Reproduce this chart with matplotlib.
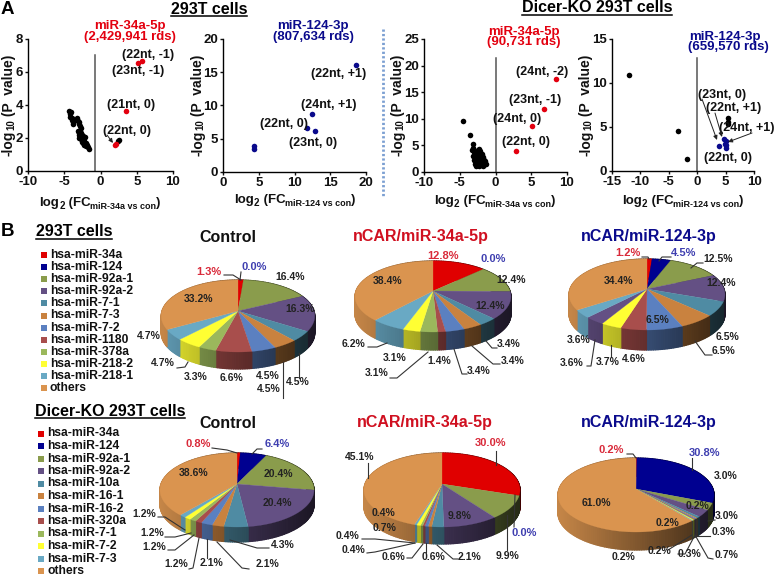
#!/usr/bin/env python
"""Volcano plots (A) and 3D-looking miRNA pies (B), 293T and Dicer-KO cells"""
import numpy as np
import matplotlib
matplotlib.use('Agg')
import matplotlib.pyplot as plt
from matplotlib.patches import Polygon, Rectangle

plt.rcParams['font.family'] = ['Liberation Sans', 'DejaVu Sans']
plt.rcParams['font.weight'] = 'bold'
plt.rcParams['axes.unicode_minus'] = False

W, H = 775, 577

# ===== Volcano data =====
p1_black_x = [-4.3, -4.2, -4.15, -4.05, -4.0, -3.9, -3.85, -3.8, -3.3, -3.2, -3.1, -3.0, -2.9, -2.8, -2.7,
              -3.1, -3.0, -2.95, -2.85, -2.8, -2.7, -2.6, -2.9, -2.75, -2.65, -2.55, -2.5, -2.4, -2.3, -2.6,
              -2.45, -2.35, -2.25, -2.15, -2.3, -2.15, -2.05, -1.95, -1.85, -1.75, -1.6, 2.5, 2.4]
p1_black_y = [3.65, 3.45, 3.3, 3.55, 3.2, 3.1, 2.95, 2.85, 3.2, 3.1, 3.0, 2.95, 2.85, 2.75, 2.6,
              2.4, 2.3, 2.2, 2.45, 2.1, 2.3, 2.15, 2.0, 2.05, 1.95, 2.2, 1.85, 2.1, 2.0, 1.75,
              1.7, 1.9, 1.8, 2.05, 1.6, 1.55, 1.7, 1.5, 1.6, 1.45, 1.35, 1.9, 1.8]
p1_red_x = [5.2, 5.7, 3.5, 2.0, 2.2]
p1_red_y = [6.55, 6.65, 3.65, 1.55, 1.65]
p2_blue_x = [18.6, 12.4, 11.7, 12.8, 4.4, 4.4]
p2_blue_y = [16.1, 8.65, 6.65, 6.1, 3.85, 3.5]
p3_black_x = [-4.5, -3.6, -3.2, -3.1, -3.3, -3.0, -2.9, -3.2, -2.7, -2.5, -2.3, -2.4, -2.1, -2.0, -2.8, -2.6,
              -2.2, -1.9, -1.7, -3.0, -2.8, -2.5, -2.3, -2.1, -1.9, -1.6, -1.4, -2.9, -2.6, -2.4, -2.2, -2.0,
              -1.7, -1.5, -2.7, -2.3, -1.8, -1.3, -2.1]
p3_black_y = [9.6, 6.9, 5.2, 4.6, 4.1, 3.7, 3.3, 3.0, 3.6, 4.1, 4.3, 3.5, 3.9, 3.2, 2.8, 3.0,
              2.9, 3.3, 2.9, 2.3, 2.1, 2.4, 2.5, 2.6, 2.4, 2.2, 2.0, 1.5, 1.7, 1.9, 1.3, 1.6,
              1.8, 1.5, 1.2, 1.1, 1.2, 1.5, 2.0]
p3_red_x = [8.4, 6.8, 5.1, 2.8]
p3_red_y = [17.4, 11.9, 8.7, 3.9]
p4_black_x = [-12.0, -3.4, -1.8, 5.5, 5.5, 5.5]
p4_black_y = [10.9, 4.6, 1.4, 6.0, 5.6, 5.3]
p4_blue_x = [3.9, 4.7, 5.0, 5.1, 5.1, 4.9]
p4_blue_y = [2.8, 3.6, 3.4, 2.9, 2.6, 3.1]

RED = '#e3000f'
NAVY = '#0a0a8c'
LABEL_RED = '#d92a3a'
LABEL_BLUE = '#3f3fb0'

# px box: left, right, top, bottom
PANELS = [
    {'box': (28, 173, 39, 171), 'xlim': (-10, 10), 'ylim': (0, 8), 'xt': [-10, -5, 0, 5, 10], 'yt': [0, 2, 4, 6, 8],
     'series': [(p1_black_x, p1_black_y, 'black'), (p1_red_x, p1_red_y, RED)], 'vline': (-0.75, 7.0)},
    {'box': (223, 366, 39, 172), 'xlim': (0, 20), 'ylim': (0, 20), 'xt': [0, 5, 10, 15, 20], 'yt': [0, 5, 10, 15, 20],
     'series': [(p2_blue_x, p2_blue_y, NAVY)], 'vline': None},
    {'box': (424, 567, 39, 172), 'xlim': (-10, 10), 'ylim': (0, 25), 'xt': [-10, -5, 0, 5, 10], 'yt': [0, 5, 10, 15, 20, 25],
     'series': [(p3_black_x, p3_black_y, 'black'), (p3_red_x, p3_red_y, RED)], 'vline': (0, 21.4)},
    {'box': (612, 754, 39, 171), 'xlim': (-15, 10), 'ylim': (0, 15), 'xt': [-15, -10, -5, 0, 5, 10], 'yt': [0, 5, 10, 15],
     'series': [(p4_black_x, p4_black_y, 'black'), (p4_blue_x, p4_blue_y, NAVY)], 'vline': (0, 12.8)},
]

# ===== Pie data =====
C_RED, C_NAVY, C_OLIVE, C_PURPLE = '#e00000', '#000090', '#8a9c4c', '#645084'
C_TEAL, C_ORANGE, C_BLUE, C_BRICK = '#4f8ba3', '#c9823f', '#5b80c0', '#a84e4c'
C_LIME, C_YELLOW, C_SKY, C_OTHER = '#9bb85c', '#ffff33', '#69a9c4', '#da944f'
slice_colors = [C_RED, C_NAVY, C_OLIVE, C_PURPLE, C_TEAL, C_ORANGE, C_BLUE, C_BRICK, C_LIME, C_YELLOW, C_SKY, C_OTHER]
slice_colors_p3 = [C_RED, C_NAVY, C_OLIVE, C_PURPLE, C_TEAL, C_ORANGE, C_BLUE, C_BRICK, C_YELLOW, C_PURPLE, C_SKY, C_OTHER]

legend_293t = ['hsa-miR-34a', 'hsa-miR-124', 'hsa-miR-92a-1', 'hsa-miR-92a-2', 'hsa-miR-7-1', 'hsa-miR-7-3',
               'hsa-miR-7-2', 'hsa-miR-1180', 'hsa-miR-378a', 'hsa-miR-218-2', 'hsa-miR-218-1', 'others']
legend_dicer = ['hsa-miR-34a', 'hsa-miR-124', 'hsa-miR-92a-1', 'hsa-miR-92a-2', 'hsa-miR-10a', 'hsa-miR-16-1',
                'hsa-miR-16-2', 'hsa-miR-320a', 'hsa-miR-7-1', 'hsa-miR-7-2', 'hsa-miR-7-3', 'others']

vals_293t_con = [1.3, 0.0, 16.4, 16.3, 4.5, 4.5, 4.5, 6.6, 3.3, 4.7, 4.7, 33.2]
vals_293t_34a = [12.8, 0.0, 12.4, 12.4, 3.4, 3.4, 3.4, 1.4, 3.1, 3.1, 6.2, 38.4]
vals_293t_124 = [1.2, 4.5, 12.5, 12.4, 6.5, 6.5, 6.5, 4.6, 3.7, 3.6, 3.6, 34.4]
vals_dicer_con = [0.8, 6.4, 20.4, 20.4, 4.3, 2.1, 2.1, 1.2, 1.2, 1.2, 1.2, 38.6]
vals_dicer_34a = [30.0, 0.0, 9.9, 9.8, 2.1, 0.6, 0.6, 0.4, 0.4, 0.7, 0.4, 45.1]
vals_dicer_124 = [0.2, 30.8, 3.0, 3.0, 0.7, 0.3, 0.3, 0.2, 0.2, 0.2, 0.2, 61.0]

PIES = [
    {'vals': vals_293t_con, 'colors': slice_colors, 'c': (238, 311), 'rx': 76, 'up': 31, 'down': 41, 'depth': 17,
     'xy': [(209, 272), (254, 267), (290, 277), (300, 309), (298, 382), (269, 389), (268, 376), (231, 378), (196, 377), (163, 363), (149, 336), (199, 299)],
     'leaders': [[(224, 275), (233, 275), (241, 280)], [(241, 272), (240, 280)], [(177, 368), (185, 367), (188, 362)], [(299, 353), (299, 378)], [(283, 362), (283, 398)]]},
    {'vals': vals_293t_34a, 'colors': slice_colors, 'c': (433, 291), 'rx': 77, 'up': 30, 'down': 41, 'depth': 18,
     'xy': [(443, 256), (493, 259), (511, 280), (490, 306), (509, 344), (513, 361), (479, 371), (439, 361), (395, 358), (377, 373), (354, 344), (388, 281)],
     'leaders': [[(486, 341), (492, 348), (497, 348)], [(472, 346), (493, 364), (500, 364)], [(454, 349), (462, 374), (467, 374)],
                 [(428, 352), (397, 378), (390, 378)], [(368, 347), (377, 347), (387, 343)]]},
    {'vals': vals_293t_124, 'colors': slice_colors_p3, 'c': (647, 289), 'rx': 77, 'up': 30, 'down': 41, 'depth': 20,
     'xy': [(628, 253), (684, 253), (718, 259), (721, 283), (728, 337), (724, 351), (657, 320), (634, 359), (608, 362), (572, 363), (579, 340), (619, 281)],
     'leaders': [[(642, 257), (648, 257), (649, 259)], [(671, 257), (662, 257), (659, 261)], [(703, 263), (697, 263), (691, 268)],
                 [(712, 355), (705, 355), (695, 341)], [(611, 357), (611, 345)], [(587, 366), (591, 366), (595, 340)]]},
    {'vals': vals_dicer_con, 'colors': slice_colors, 'c': (237, 484), 'rx': 76, 'up': 31, 'down': 43, 'depth': 15,
     'xy': [(198, 444), (277, 444), (278, 474), (277, 503), (283, 545), (267, 564), (212, 563), (176, 564), (154, 547), (152, 533), (144, 514), (194, 473)],
     'leaders': [[(212, 448), (227, 450), (237, 453)], [(262, 449), (257, 449), (252, 454)], [(158, 517), (165, 517), (185, 530)],
                 [(165, 537), (175, 537), (191, 533)], [(168, 550), (175, 550), (194, 535)], [(189, 569), (193, 568), (199, 538)],
                 [(207, 558), (207, 539)], [(249, 569), (242, 568), (217, 542)], [(269, 548), (257, 548), (230, 540)]]},
    {'vals': vals_dicer_34a, 'colors': slice_colors, 'c': (442, 484), 'rx': 77, 'up': 31, 'down': 43, 'depth': 17,
     'xy': [(491, 443), (524, 533), (508, 556), (460, 516), (470, 557), (434, 557), (393, 557), (354, 550), (347, 536), (385, 528), (383, 513), (360, 457)],
     'leaders': [[(496, 451), (496, 465)], [(514, 527), (515, 495)], [(507, 550), (507, 515)], [(458, 559), (453, 559), (437, 545)],
                 [(407, 558), (412, 558), (423, 544)], [(426, 552), (426, 543)], [(368, 463), (368, 478)],
                 [(362, 539), (375, 539), (415, 543)], [(367, 553), (375, 552), (415, 543)]]},
    {'vals': vals_dicer_124, 'colors': slice_colors, 'c': (636, 489), 'rx': 77, 'up': 31, 'down': 43, 'depth': 18,
     'xy': [(611, 450), (705, 453), (726, 476), (727, 516), (727, 555), (723, 532), (689, 554), (697, 506), (668, 523), (659, 551), (624, 557), (596, 503)],
     'leaders': [[(627, 454), (633, 454), (636, 458)], [(692, 458), (692, 470)], [(715, 520), (708, 521)], [(710, 536), (697, 536)],
                 [(713, 559), (708, 558), (695, 535)], [(678, 554), (685, 554), (695, 535)], [(668, 550), (692, 535)]]},
]

fig = plt.figure(figsize=(W / 100, H / 100), dpi=100)

# ===== Volcano axes =====
for p in PANELS:
    l, r, t, b = p['box']
    ax = fig.add_axes([l / W, 1 - b / H, (r - l) / W, (b - t) / H])
    ax.set_xlim(*p['xlim'])
    ax.set_ylim(*p['ylim'])
    ax.set_xticks(p['xt'])
    ax.set_yticks(p['yt'])
    ax.tick_params(labelsize=9.5, width=1.0, length=2.2, pad=1.2, colors='#111111')
    for side in ['top', 'right']:
        ax.spines[side].set_visible(False)
    for side in ['left', 'bottom']:
        ax.spines[side].set_linewidth(1.0)
    if p['vline']:
        ax.plot([p['vline'][0]] * 2, [0, p['vline'][1]], color='#555555', lw=1.1)
    for xs, ys, col in p['series']:
        ax.plot(xs, ys, 'o', color=col, ms=4, mew=0, clip_on=False)

# ===== Overlay in pixel coordinates =====
ov = fig.add_axes([0, 0, 1, 1], zorder=5)
ov.set_xlim(0, W)
ov.set_ylim(H, 0)
ov.axis('off')
ov.patch.set_alpha(0)
renderer = fig.canvas.get_renderer()


def rich(x, y, parts, rot=0):
    # text with sub-script pieces, centred on x, y
    sizes = []
    for s, fs, _ in parts:
        tmp = ov.text(0, 0, s, fontsize=fs)
        sizes.append(tmp.get_window_extent(renderer).width)
        tmp.remove()
    pos = -sum(sizes) / 2
    for (s, fs, dy), w in zip(parts, sizes):
        if rot == 90:
            ov.text(x + dy, y - pos, s, fontsize=fs, rotation=90, ha='center', va='bottom', color='#111111')
        else:
            ov.text(x + pos, y + dy, s, fontsize=fs, ha='left', va='baseline', color='#111111')
        pos += w


def fc_label(x, y, name):
    rich(x, y, [('log', 9.5, 0), ('2', 7, 3), (' (FC', 9.5, 0), (name + ' vs con', 6.5, 3), (')', 9.5, 0)])


def p_label(x, y):
    rich(x, y, [('-log', 10, 0), ('10', 7, 2), (' (P  value)', 10, 0)], rot=90)


def heading(x, y, s, fs=11.5, ul=True, color='black'):
    t = ov.text(x, y, s, fontsize=fs, ha='center', va='center', color=color)
    if ul:
        bb = t.get_window_extent(renderer)
        ov.plot([bb.x0, bb.x1], [y + 7, y + 7], color='black', lw=1.1)


def pie_xy(t, p):
    # circle seen in perspective: the near half of the rim is taller than the far half
    up, down = p['up'], p['down']
    rad = 2 * up * down / (up + down)
    k = (down - up) / (down + up)
    den = 1 + k * np.sin(t)
    return p['c'][0] + p['rx'] * np.cos(t) / den, p['c'][1] - rad * np.sin(t) / den


def draw_pie(p):
    vals = np.array(p['vals'])
    edges = np.cumsum(np.r_[0, vals]) / vals.sum()
    angles = np.pi / 2 - 2 * np.pi * edges
    cx, cy = p['c']
    rx, depth = p['rx'], p['depth']
    # side wall first, top surface hides the far half
    for i, col in enumerate(p['colors']):
        if vals[i] <= 0:
            continue
        n = max(2, int(vals[i] * 3.6 / 1.5) + 2)
        ts = np.linspace(angles[i], angles[i + 1], n)
        xs, ys = pie_xy(ts, p)
        base = np.array(matplotlib.colors.to_rgb(col))
        for j in range(n - 1):
            f = 0.9 - 0.62 * (0.5 * (xs[j] + xs[j + 1]) - (cx - rx)) / (2 * rx)
            shade = tuple(base * f)
            quad = [(xs[j], ys[j]), (xs[j + 1], ys[j + 1]), (xs[j + 1], ys[j + 1] + depth), (xs[j], ys[j] + depth)]
            ov.add_patch(Polygon(quad, closed=True, fc=shade, ec=shade, lw=0.9, zorder=2, joinstyle='round'))
    for i, col in enumerate(p['colors']):
        if vals[i] <= 0:
            continue
        n = max(2, int(vals[i] * 3.6) + 2)
        xs, ys = pie_xy(np.linspace(angles[i], angles[i + 1], n), p)
        pts = [(cx, cy)] + list(zip(xs, ys))
        ov.add_patch(Polygon(pts, closed=True, fc=col, ec=col, lw=0.2, zorder=3))
    for pts in p['leaders']:
        ov.plot([q[0] for q in pts], [q[1] for q in pts], color='#333333', lw=0.8, zorder=4)
    for i, (v, (x, y)) in enumerate(zip(vals, p['xy'])):
        col = LABEL_RED if i == 0 else LABEL_BLUE if i == 1 else '#222222'
        fs = 8 if i < 2 else 7.5
        ov.text(x, y, f'{v:.1f}%', fontsize=fs, ha='center', va='center', color=col, zorder=6)


# ===== Panel A texts =====
ov.text(1, 10, 'A', fontsize=13.5, va='center')
ov.text(1, 232, 'B', fontsize=13.5, va='center')
heading(209, 9, '293T cells')
heading(597, 8, 'Dicer-KO 293T cells')
ov.plot([383, 383], [29, 197], color='#7b9fd2', lw=2, ls=(0, (0.8, 0.8)))

for x, y, s, col in [(130, 26, 'miR-34a-5p', RED), (130, 37, '(2,429,941 rds)', RED),
                     (313, 26, 'miR-124-3p', NAVY), (313, 37, '(807,634 rds)', NAVY),
                     (524, 32, 'miR-34a-5p', RED), (524, 42, '(90,731 rds)', RED),
                     (725, 37, 'miR-124-3p', NAVY), (728, 47, '(659,570 rds)', NAVY)]:
    ov.text(x, y, s, fontsize=9.5, ha='center', va='center', color=col)

scatter_labels = [(148, 55, '(22nt, -1)'), (138, 71, '(23nt, -1)'), (131, 105, '(21nt, 0)'), (127, 131, '(22nt, 0)'),
                  (339, 74, '(22nt, +1)'), (329, 105, '(24nt, +1)'), (284, 124, '(22nt, 0)'), (313, 143, '(23nt, 0)'),
                  (542, 72, '(24nt, -2)'), (535, 100, '(23nt, -1)'), (517, 119, '(24nt, 0)'), (526, 142, '(22nt, 0)'),
                  (722, 95, '(23nt, 0)'), (734, 108, '(22nt, +1)'), (747, 128, '(24nt, +1)'), (728, 158, '(22nt, 0)')]
for x, y, s in scatter_labels:
    ov.text(x, y, s, fontsize=9, ha='center', va='center', color='#111111')

for a, b in [((107, 135), (113, 143)), ((702, 99), (717, 140)), ((715, 113), (722, 137)), ((752, 133), (728, 142))]:
    ov.annotate('', xy=b, xytext=a, arrowprops=dict(arrowstyle='-|>,head_width=0.12,head_length=0.25', color='#222222', lw=0.7, shrinkA=0, shrinkB=0))

fc_label(100, 206, 'miR-34a')
fc_label(295, 203, 'miR-124')
fc_label(495, 204, 'miR-34a')
fc_label(683, 204, 'miR-124')
for x in [9, 198, 398, 586]:
    p_label(x, 105)

# ===== Panel B =====
heading(74, 232, '293T cells')
heading(110, 411, 'Dicer-KO 293T cells')
for x0, y0, dy, names in [(44, 255, 12.1, legend_293t), (41, 433.5, 12.5, legend_dicer)]:
    for i, (name, col) in enumerate(zip(names, slice_colors)):
        y = y0 + i * dy
        ov.add_patch(Rectangle((x0 - 3, y - 3), 6, 6, fc=col, ec='none'))
        ov.text(x0 + 6, y, name, fontsize=8.7, ha='left', va='center', color='#111111')

for x, y, s, col in [(228, 237, 'Control', '#111111'), (421, 237, 'nCAR/miR-34a-5p', '#d01020'), (649, 237, 'nCAR/miR-124-3p', NAVY),
                     (228, 423, 'Control', '#111111'), (425, 423, 'nCAR/miR-34a-5p', '#d01020'), (649, 423, 'nCAR/miR-124-3p', NAVY)]:
    heading(x, y, s, ul=False, color=col)

for p in PIES:
    draw_pie(p)

fig.savefig('out.png', dpi=100)
